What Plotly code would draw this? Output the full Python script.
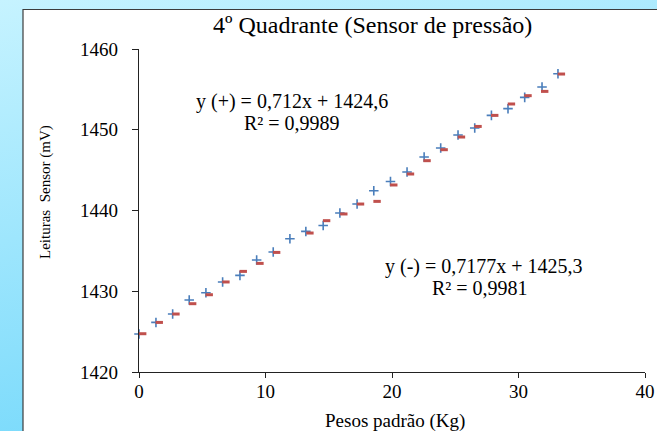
import base64
import plotly.graph_objects as go

# ---- data ----
peso_mais = [0.0, 1.34, 2.66, 3.97, 5.29, 6.61, 7.98, 9.30, 10.61, 11.93, 13.19, 14.56, 15.88,
             17.24, 18.56, 19.88, 21.19, 22.54, 23.85, 25.22, 26.54, 27.86, 29.17, 30.49, 31.86, 33.12]
leitura_mais = [1424.71, 1426.14, 1427.18, 1428.92, 1429.82, 1431.15, 1431.96, 1433.87, 1434.86,
                1436.51, 1437.41, 1438.15, 1439.69, 1440.80, 1442.45, 1443.60, 1444.77, 1446.63,
                1447.74, 1449.35, 1450.22, 1451.78, 1452.61, 1454.01, 1455.29, 1456.94]

peso_menos = [0.29, 1.60, 2.92, 4.24, 5.55, 6.87, 8.24, 9.56, 10.88, None, 13.51, 14.83, 16.19,
              17.51, 18.82, 20.14, 21.46, 22.77, 24.12, 25.49, 26.80, 28.12, 29.44, 30.75, 32.07, 33.39]
leitura_menos = [1424.74, 1426.14, 1427.18, 1428.46, 1429.57, 1431.15, 1432.46, 1433.45, 1434.81,
                 None, 1437.21, 1438.74, 1439.57, 1440.80, 1441.13, 1443.16, 1444.52, 1446.17,
                 1447.53, 1449.10, 1450.41, 1451.78, 1453.19, 1454.22, 1454.75, 1456.90]

x_ticks = [0, 10, 20, 30, 40]
y_ticks = [1420, 1430, 1440, 1450, 1460]

titulo = "4º Quadrante (Sensor de pressão)"
titulo_x = "Pesos padrão (Kg)"
titulo_y = "Leituras\u00a0 Sensor (mV)"
eq_mais = ["y (+) = 0,712x + 1424,6", "R² = 0,9989"]
eq_menos = ["y (-) = 0,7177x + 1425,3", "R² = 0,9981"]

# ---- layout geometry ----
W, H = 657, 431
ML, MR, MT, MB = 139, 12, 49, 59
PW, PH = W - ML - MR, H - MT - MB

def px_x(px):
    return (px - ML) / PW

def px_y(py):
    return (H - MB - py) / PH

SERIF = "Liberation Serif, Times New Roman, serif"

svg = f'''<svg xmlns="http://www.w3.org/2000/svg" width="{W}" height="{H}" viewBox="0 0 {W} {H}" preserveAspectRatio="none">
<defs><linearGradient id="g" x1="0" y1="0" x2="0.35" y2="1">
<stop offset="0" stop-color="#c6f3ff"/><stop offset="1" stop-color="#76d9fb"/></linearGradient></defs>
<rect width="{W}" height="{H}" fill="url(#g)"/></svg>'''
src = "data:image/svg+xml;base64," + base64.b64encode(svg.encode()).decode()

fig = go.Figure()
fig.add_trace(go.Scatter(
    x=peso_mais, y=leitura_mais, mode="markers", name="(+)", cliponaxis=False,
    marker=dict(symbol="cross-thin", size=6.8, line=dict(color="#4a7ebb", width=1.6)),
))
fig.add_trace(go.Scatter(
    x=peso_menos, y=leitura_menos, mode="markers", name="(-)", cliponaxis=False,
    marker=dict(symbol="line-ew", size=5.3, line=dict(color="#c0504d", width=3)),
))

def ann(text, cx, cy, size, angle=0):
    return dict(text=text, xref="paper", yref="paper", x=px_x(cx), y=px_y(cy),
                xanchor="center", yanchor="middle", textangle=angle,
                showarrow=False, font=dict(family=SERIF, size=size, color="#000"))

annots = [ann(titulo, 372, 25, 24),
          ann(titulo_x, 395, 421, 19),
          ann(titulo_y, 45, 192, 15, -90)]
for txt, (cx, cy) in zip(eq_mais, [(292, 101), (292, 123)]):
    annots.append(ann(txt, cx, cy, 20))
for txt, (cx, cy) in zip(eq_menos, [(484, 266), (480, 288)]):
    annots.append(ann(txt, cx, cy, 20))

fig.update_layout(
    width=W, height=H, autosize=False,
    margin=dict(l=ML, r=MR, t=MT, b=MB, pad=0, autoexpand=False),
    paper_bgcolor="#9fe6ff", plot_bgcolor="white",
    showlegend=False,
    images=[dict(source=src, xref="paper", yref="paper", x=px_x(0), y=px_y(0),
                 sizex=W / PW, sizey=H / PH, xanchor="left", yanchor="top",
                 sizing="stretch", layer="below")],
    shapes=[dict(type="rect", xref="paper", yref="paper", layer="below",
                 x0=px_x(23), x1=px_x(W + 5), y0=px_y(H + 5), y1=px_y(9.5),
                 fillcolor="white", line=dict(color="#3c3c3c", width=1.2))],
    annotations=annots,
    xaxis=dict(range=[0, 40], tickvals=x_ticks, showgrid=False, zeroline=False,
               automargin=False,
               showline=True, linecolor="#222", linewidth=1.2,
               ticks="outside", ticklen=5, tickcolor="#222", tickwidth=1.2,
               ticklabelstandoff=-3,
               tickfont=dict(family=SERIF, size=19, color="#000")),
    yaxis=dict(range=[1420, 1460], tickvals=y_ticks, showgrid=False, zeroline=False,
               automargin=False,
               showline=True, linecolor="#222", linewidth=1.2,
               ticks="outside", ticklen=6, tickcolor="#222", tickwidth=1.2,
               ticklabelstandoff=10,
               tickfont=dict(family=SERIF, size=19, color="#000")),
)

fig.write_html("out.html")
